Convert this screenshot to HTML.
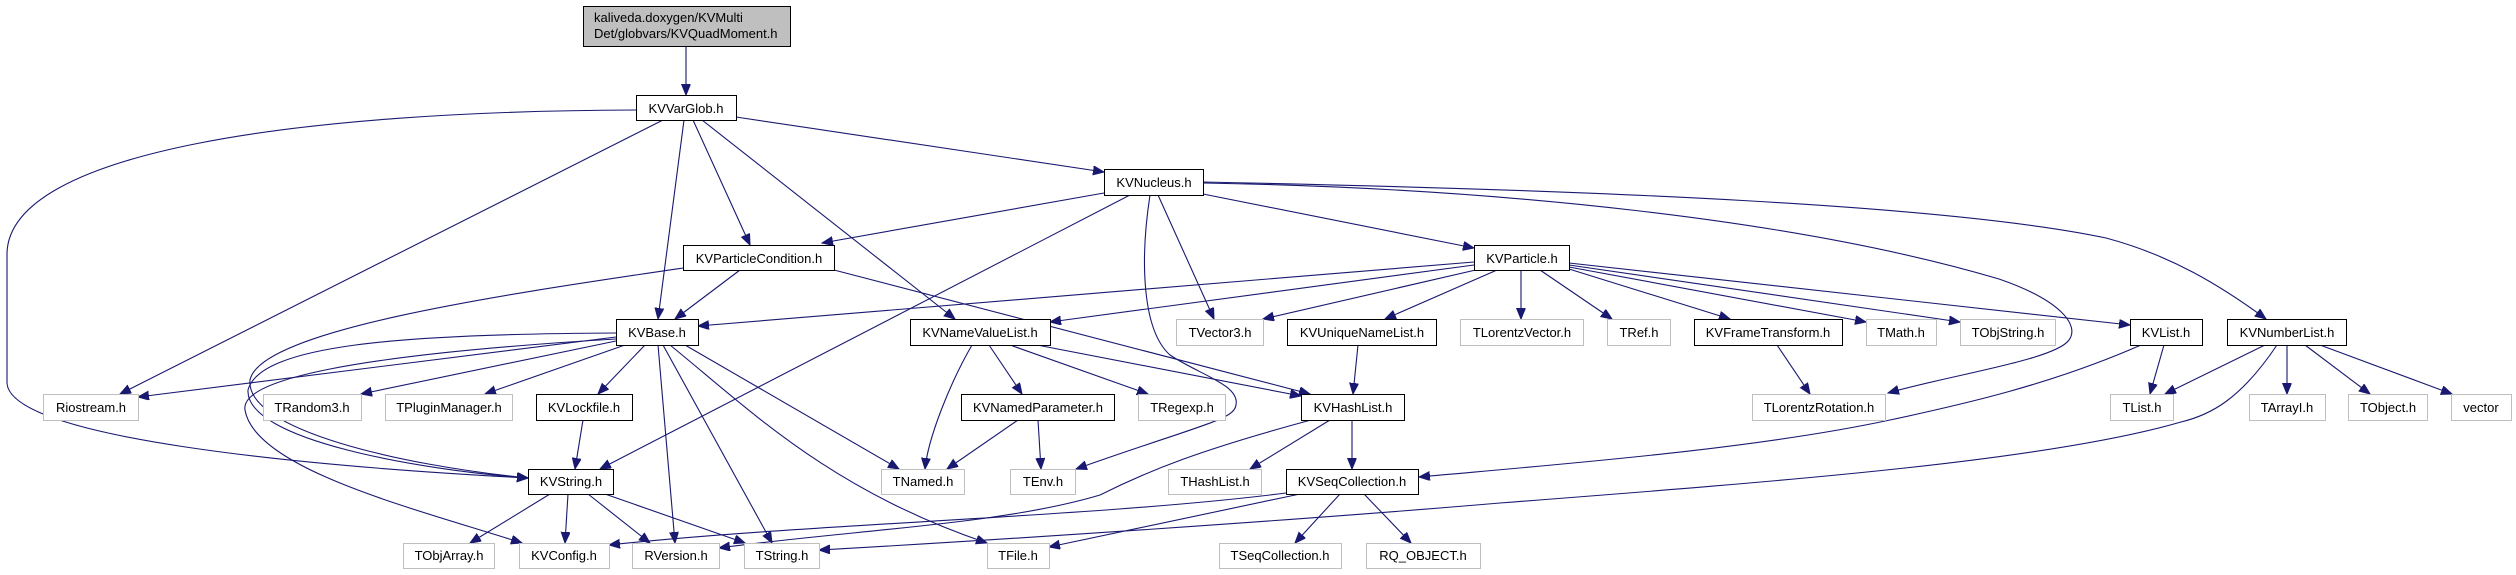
<!DOCTYPE html>
<html><head><meta charset="utf-8"><style>
html,body{margin:0;padding:0;background:#fff;}
svg{display:block;}
text{font-family:"Liberation Sans",sans-serif;font-size:13px;fill:#000;}
</style></head><body>
<svg width="2516" height="575" viewBox="0 0 2516 575" xmlns="http://www.w3.org/2000/svg">
<defs>
<marker id="a" markerUnits="userSpaceOnUse" markerWidth="12" markerHeight="10" refX="11" refY="4.5" orient="auto">
<path d="M0,0 L11,4.5 L0,9 z" fill="#191970" stroke="#191970"/>
</marker>
</defs>
<g fill="none" stroke="#191970" stroke-width="1.1" marker-end="url(#a)">
<path d="M686,46 L686,95"/>
<path d="M736,117 L1104,172"/>
<path d="M663,120 L120,394"/>
<path d="M684,120 L658,319"/>
<path d="M693,120 L750,245"/>
<path d="M702,120 L955,319"/>
<path d="M636,110 C300,111 10,151 7,253 L7,383 C10,438 300,466 528,478"/>
<path d="M1104,193 L822,243"/>
<path d="M1130,195 L600,469"/>
<path d="M1150,195 C1140,260 1142,330 1170,355 C1200,375 1240,385 1236,405 C1234,420 1200,425 1076,469"/>
<path d="M1158,195 L1214,319"/>
<path d="M1203,194 L1474,248"/>
<path d="M1203,183 C1500,188 1800,220 1999,279 C2060,300 2080,325 2069,340 C2055,360 1950,375 1888,393"/>
<path d="M1203,182 C1600,190 1950,205 2106,238 C2170,255 2220,285 2266,319"/>
<path d="M834,270 L1310,394"/>
<path d="M740,270 L675,319"/>
<path d="M683,268 C500,295 260,330 250,380 C245,430 400,465 528,478"/>
<path d="M1474,262 L698,326"/>
<path d="M1474,265 L1050,322"/>
<path d="M1480,269 L1263,319"/>
<path d="M1497,270 L1385,319"/>
<path d="M1521,270 L1521,319"/>
<path d="M1540,270 L1612,319"/>
<path d="M1569,269 L1730,319"/>
<path d="M1569,267 L1866,322"/>
<path d="M1569,265 L1960,322"/>
<path d="M1569,263 L2130,325"/>
<path d="M616,337 L138,397"/>
<path d="M616,341 L361,394"/>
<path d="M625,345 L485,394"/>
<path d="M645,345 L598,394"/>
<path d="M616,333 C400,334 260,345 248,390 C245,440 420,470 528,478"/>
<path d="M616,339 C350,355 240,380 245,410 C255,470 420,510 522,543"/>
<path d="M685,345 L899,469"/>
<path d="M658,345 L675,543"/>
<path d="M663,345 L772,543"/>
<path d="M670,345 C750,410 830,490 987,543"/>
<path d="M583,420 L575,469"/>
<path d="M550,494 L470,543"/>
<path d="M568,494 L565,543"/>
<path d="M588,494 L650,543"/>
<path d="M605,494 L745,543"/>
<path d="M972,345 C950,383 928,438 925,469"/>
<path d="M989,345 L1022,394"/>
<path d="M1010,345 L1148,394"/>
<path d="M1037,345 L1301,396"/>
<path d="M1018,420 L947,469"/>
<path d="M1038,420 L1041,469"/>
<path d="M1358,345 L1353,394"/>
<path d="M1330,420 L1250,469"/>
<path d="M1352,420 L1352,469"/>
<path d="M1311,420 C1200,450 1150,470 1100,495 C1000,525 850,530 719,548"/>
<path d="M1286,493 C1100,517 800,524 609,545"/>
<path d="M1300,494 L1049,547"/>
<path d="M1340,494 L1295,543"/>
<path d="M1364,494 L1411,543"/>
<path d="M1777,345 L1810,394"/>
<path d="M2164,345 L2150,394"/>
<path d="M2141,345 C2050,385 1960,405 1890,420 C1750,450 1550,465 1419,477"/>
<path d="M2265,345 L2165,394"/>
<path d="M2287,345 L2287,394"/>
<path d="M2305,345 L2370,394"/>
<path d="M2320,345 L2452,394"/>
<path d="M2277,345 C2240,400 2210,415 2181,422 C2050,460 1800,480 1500,503 C1300,520 1000,540 819,550"/>
</g>
<!-- root -->
<rect x="583.5" y="6.5" width="207" height="40" fill="#bfbfbf" stroke="#000" stroke-width="1"/>
<text x="594" y="22">kaliveda.doxygen/KVMulti</text>
<text x="594" y="38">Det/globvars/KVQuadMoment.h</text>
<g stroke-width="1">
<!-- black nodes -->
<g fill="#fff" stroke="#000">
<rect x="636.5" y="95.5" width="100" height="25"/>
<rect x="1104.5" y="169.5" width="99" height="26"/>
<rect x="683.5" y="245.5" width="151" height="25"/>
<rect x="1474.5" y="245.5" width="95" height="25"/>
<rect x="616.5" y="319.5" width="82" height="26"/>
<rect x="910.5" y="319.5" width="140" height="26"/>
<rect x="1287.5" y="319.5" width="149" height="26"/>
<rect x="1694.5" y="319.5" width="148" height="26"/>
<rect x="2130.5" y="319.5" width="72" height="26"/>
<rect x="2227.5" y="319.5" width="119" height="26"/>
<rect x="536.5" y="394.5" width="96" height="26"/>
<rect x="961.5" y="394.5" width="153" height="26"/>
<rect x="1301.5" y="394.5" width="103" height="26"/>
<rect x="528.5" y="469.5" width="85" height="25"/>
<rect x="1286.5" y="469.5" width="132" height="25"/>
</g>
<!-- gray nodes -->
<g fill="#fff" stroke="#bfbfbf">
<rect x="1176.5" y="319.5" width="87" height="26"/>
<rect x="1460.5" y="319.5" width="123" height="26"/>
<rect x="1607.5" y="319.5" width="63" height="26"/>
<rect x="1866.5" y="319.5" width="70" height="26"/>
<rect x="1960.5" y="319.5" width="95" height="26"/>
<rect x="43.5" y="394.5" width="95" height="26"/>
<rect x="263.5" y="394.5" width="98" height="26"/>
<rect x="385.5" y="394.5" width="127" height="26"/>
<rect x="1138.5" y="394.5" width="87" height="26"/>
<rect x="1752.5" y="394.5" width="133" height="26"/>
<rect x="2110.5" y="394.5" width="63" height="26"/>
<rect x="2249.5" y="394.5" width="76" height="26"/>
<rect x="2348.5" y="394.5" width="79" height="26"/>
<rect x="2451.5" y="394.5" width="60" height="26"/>
<rect x="881.5" y="469.5" width="83" height="25"/>
<rect x="1010.5" y="469.5" width="65" height="25"/>
<rect x="1168.5" y="469.5" width="93" height="25"/>
<rect x="403.5" y="543.5" width="91" height="25"/>
<rect x="519.5" y="543.5" width="90" height="25"/>
<rect x="632.5" y="543.5" width="87" height="25"/>
<rect x="744.5" y="543.5" width="75" height="25"/>
<rect x="987.5" y="543.5" width="62" height="25"/>
<rect x="1219.5" y="543.5" width="122" height="25"/>
<rect x="1366.5" y="543.5" width="114" height="25"/>
</g>
</g>
<g text-anchor="middle">
<text x="686" y="113">KVVarGlob.h</text>
<text x="1154" y="187">KVNucleus.h</text>
<text x="759" y="263">KVParticleCondition.h</text>
<text x="1522" y="263">KVParticle.h</text>
<text x="657" y="337">KVBase.h</text>
<text x="980" y="337">KVNameValueList.h</text>
<text x="1220" y="337">TVector3.h</text>
<text x="1362" y="337">KVUniqueNameList.h</text>
<text x="1522" y="337">TLorentzVector.h</text>
<text x="1639" y="337">TRef.h</text>
<text x="1768" y="337">KVFrameTransform.h</text>
<text x="1901" y="337">TMath.h</text>
<text x="2008" y="337">TObjString.h</text>
<text x="2166" y="337">KVList.h</text>
<text x="2287" y="337">KVNumberList.h</text>
<text x="91" y="412">Riostream.h</text>
<text x="312" y="412">TRandom3.h</text>
<text x="449" y="412">TPluginManager.h</text>
<text x="584" y="412">KVLockfile.h</text>
<text x="1038" y="412">KVNamedParameter.h</text>
<text x="1182" y="412">TRegexp.h</text>
<text x="1353" y="412">KVHashList.h</text>
<text x="1819" y="412">TLorentzRotation.h</text>
<text x="2142" y="412">TList.h</text>
<text x="2287" y="412">TArrayI.h</text>
<text x="2388" y="412">TObject.h</text>
<text x="2481" y="412">vector</text>
<text x="571" y="486">KVString.h</text>
<text x="923" y="486">TNamed.h</text>
<text x="1043" y="486">TEnv.h</text>
<text x="1215" y="486">THashList.h</text>
<text x="1352" y="486">KVSeqCollection.h</text>
<text x="449" y="560">TObjArray.h</text>
<text x="564" y="560">KVConfig.h</text>
<text x="676" y="560">RVersion.h</text>
<text x="782" y="560">TString.h</text>
<text x="1018" y="560">TFile.h</text>
<text x="1280" y="560">TSeqCollection.h</text>
<text x="1423" y="560">RQ_OBJECT.h</text>
</g>
</svg>
</body></html>
